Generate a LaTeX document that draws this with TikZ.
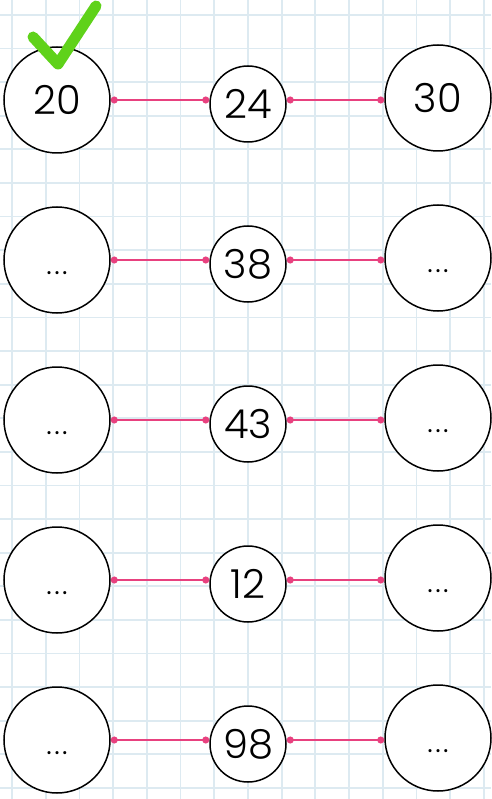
\documentclass[tikz,border=0pt]{standalone}
\usepackage{fontspec}
\setmainfont{Poppins Light}
\usetikzlibrary{arrows.meta,positioning,calc}
\definecolor{gridblue}{HTML}{DDEAF1}
\definecolor{linkpink}{HTML}{E8417F}
\definecolor{tickgreen}{HTML}{5FD21A}
\newcommand{\blanknum}{\vphantom{0}{\fontsize{30}{30}\selectfont .\hspace{2.5pt}.\hspace{2.5pt}.}}
\tikzset{
	bigcirc/.style={draw, circle, line width=1.5pt, minimum size=106pt, fill=white, inner sep=0pt, font=\fontsize{40}{40}\selectfont},
	midcirc/.style={draw, circle, line width=1.5pt, minimum size=76pt, fill=white, inner sep=0pt, font=\fontsize{40}{40}\selectfont},
	link/.style={{Circle[length=7pt]}-{Circle[length=7pt]}, line width=1.6pt, draw=linkpink, fill=linkpink},
	gridline/.style={draw=gridblue, line width=1.8pt}
}

\begin{document}
\begin{tikzpicture}[x=1pt, y=-1pt]
	\useasboundingbox[fill=white] (0,0) rectangle (491,799);
	% squared paper
	\foreach \k in {0,...,14}
		\draw[gridline] ({12+33.7*\k},0) -- ({12+33.7*\k},799);
	\foreach \k in {0,...,23}
		\draw[gridline] (0,{15+33.6*\k}) -- (491,{15+33.6*\k});
	% rows: left / middle / right
	\foreach \i/\a/\b/\c in {1/20/24/30, 2/\blanknum/38/\blanknum, 3/\blanknum/43/\blanknum, 4/\blanknum/12/\blanknum, 5/\blanknum/98/\blanknum} {
		\pgfmathsetmacro{\yy}{100+160*(\i-1)}
		\node[bigcirc] (l\i) at (57,\yy) {\a};
		\node[midcirc] (m\i) at (248,\yy+4) {\b};
		\node[bigcirc] (r\i) at (438,\yy-2) {\c};
		\draw[link] (l\i.east) -- (m\i.west |- l\i.east);
		\draw[link] (m\i.east |- l\i.east) -- (r\i.west |- l\i.east);
	}
	% tick on the first answer
	\draw[tickgreen, line width=11pt, line join=round, line cap=round] (33,37) -- (58,64) -- (96,6);
\end{tikzpicture}
\end{document}
